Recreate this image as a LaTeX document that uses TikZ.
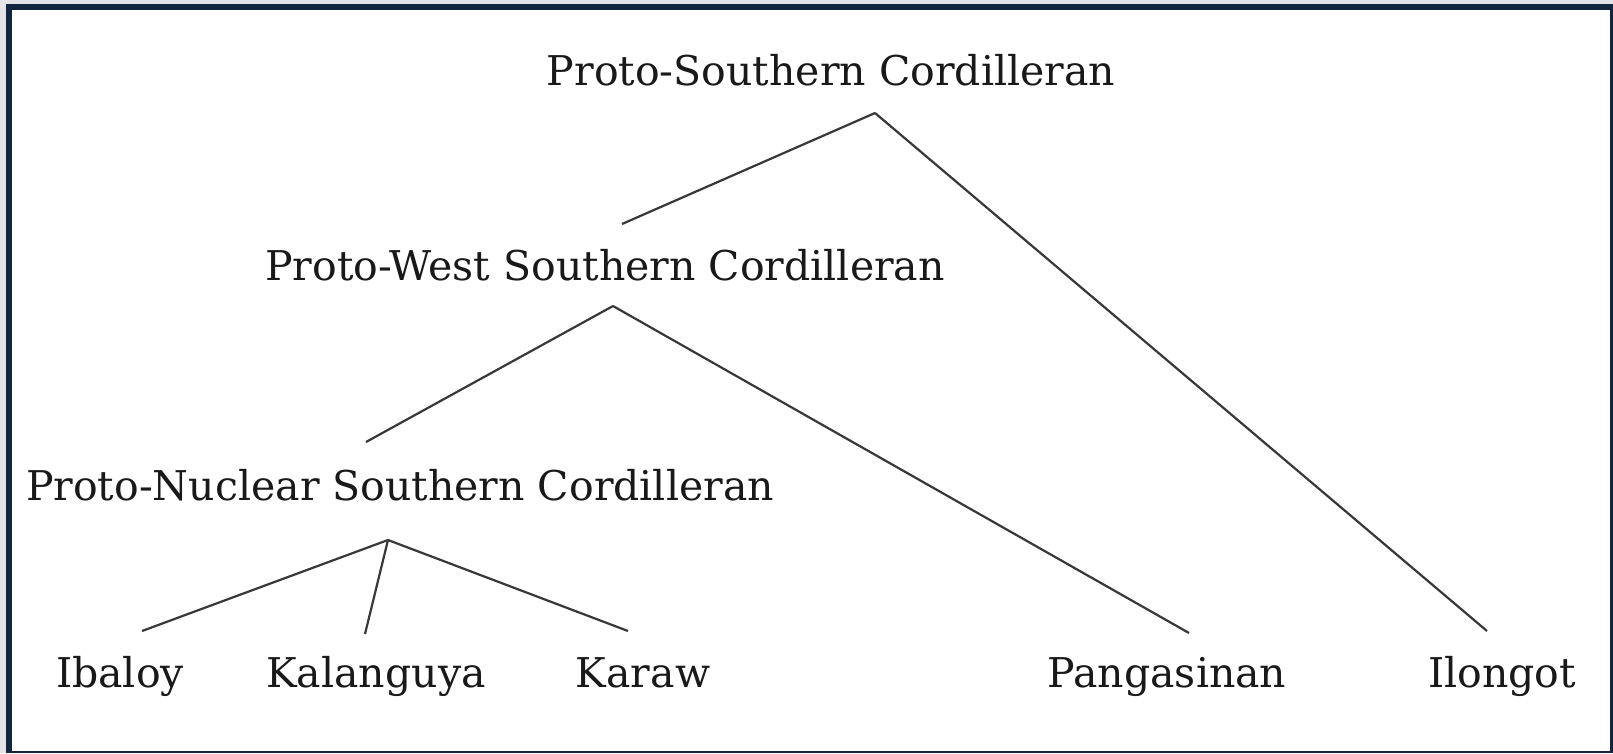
\documentclass[tikz,border=0pt]{standalone}
\usepackage{fontspec}
\setmainfont{DejaVu Serif}
\usetikzlibrary{calc}
\begin{document}
\begin{tikzpicture}[x=1pt,y=-1pt,
  lbl/.style={anchor=base,inner sep=0pt,font=\fontsize{41}{45}\selectfont,text=black!90},
  edge/.style={draw=black!78,line width=2.2pt}]
\useasboundingbox (0,0) rectangle (1613,753);
\fill[blue!10!gray!20] (0,0) rectangle (1613,753);
\fill[fill={rgb,255:red,19;green,36;blue,63}] (6,4) rectangle (1613,753);
\fill[white] (12,10) rectangle (1610,751);
\node[lbl] (top) at (831,85) {Proto-Southern Cordilleran};
\node[lbl] (west) at (605,280) {Proto-West Southern Cordilleran};
\node[lbl] (nuc) at (400,500) {Proto-Nuclear Southern Cordilleran};
\node[lbl] (iba) at (120,687) {Ibaloy};
\node[lbl] (kal) at (376,687) {Kalanguya};
\node[lbl] (kar) at (643,687) {Karaw};
\node[lbl] (pan) at (1167,687) {Pangasinan};
\node[lbl] (ilo) at (1502,687) {Ilongot};
\draw[edge] ($(top.base)+(44,28)$) -- ($(west.base)+(17,-56)$);
\draw[edge] ($(top.base)+(44,28)$) -- ($(ilo.base)+(-15,-56)$);
\draw[edge] ($(west.base)+(8,26)$) -- ($(nuc.base)+(-34,-58)$);
\draw[edge] ($(west.base)+(8,26)$) -- ($(pan.base)+(22,-54)$);
\draw[edge] ($(nuc.base)+(-12,40)$) -- ($(iba.base)+(22,-56)$);
\draw[edge] ($(nuc.base)+(-12,40)$) -- ($(kal.base)+(-11,-53)$);
\draw[edge] ($(nuc.base)+(-12,40)$) -- ($(kar.base)+(-15,-56)$);
\end{tikzpicture}
\end{document}
